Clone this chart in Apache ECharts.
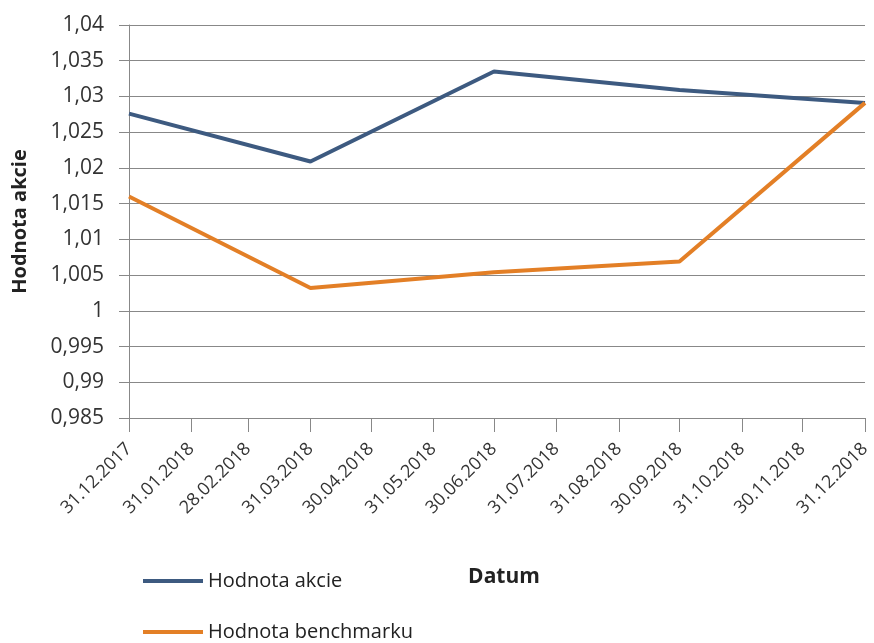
<!DOCTYPE html>
<html>
<head>
<meta charset="utf-8">
<script src="https://cdn.jsdelivr.net/npm/echarts@6/dist/echarts.min.js"></script>
<style>
  html, body { margin: 0; padding: 0; background: #fff; }
  #chart { width: 874px; height: 643px; }
</style>
</head>
<body>
<div id="chart"></div>
<script>
// month-end ticks of the date axis
const tickDates = ['2017-12-31', '2018-01-31', '2018-02-28', '2018-03-31', '2018-04-30', '2018-05-31',
  '2018-06-30', '2018-07-31', '2018-08-31', '2018-09-30', '2018-10-31', '2018-11-30', '2018-12-31'];
// quarterly observations
const pointDates = ['2017-12-31', '2018-03-31', '2018-06-30', '2018-09-30', '2018-12-31'];
const akcie = [1.0276, 1.0209, 1.0335, 1.0309, 1.0291];
const benchmark = [1.0160, 1.0032, 1.0054, 1.0069, 1.0291];

// x axis counted in days from the first date
const DAY = 86400000;
const ts = d => Date.UTC(+d.slice(0, 4), +d.slice(5, 7) - 1, +d.slice(8, 10));
const base = ts(tickDates[0]);
const dayOf = d => Math.round((ts(d) - base) / DAY);
const tickDays = tickDates.map(dayOf);
const labelOfDay = {};
tickDates.forEach((d, i) => {
  labelOfDay[tickDays[i]] = d.slice(8, 10) + '.' + d.slice(5, 7) + '.' + d.slice(0, 4);
});

const font = '"Open Sans", "Noto Sans", sans-serif';
const myChart = echarts.init(document.getElementById('chart'));
const options = {
  animation: false,
  backgroundColor: '#fff',
  textStyle: { fontFamily: font },
  grid: { left: 129, right: 9, top: 25, bottom: 225, outerBoundsMode: 'none' },
  legend: {
    orient: 'vertical',
    left: 138,
    top: 566,
    height: 90,
    icon: 'rect',
    itemWidth: 60,
    itemHeight: 4,
    itemGap: 31,
    textStyle: { fontFamily: font, fontSize: 20, color: '#222' },
    data: ['Hodnota akcie', 'Hodnota benchmarku']
  },
  xAxis: {
    type: 'value',
    min: tickDays[0],
    max: tickDays[tickDays.length - 1],
    name: 'Datum',
    nameLocation: 'middle',
    nameGap: 149,
    nameTextStyle: { fontFamily: font, fontSize: 21, fontWeight: 'bold', color: '#222', padding: [0, 0, 0, 14] },
    axisLine: { show: true, lineStyle: { color: '#888', width: 1 } },
    axisTick: { show: true, customValues: tickDays, length: 14, lineStyle: { color: '#888' } },
    axisLabel: {
      customValues: tickDays,
      rotate: 45,
      formatter: v => labelOfDay[Math.round(v)] || '',
      fontFamily: font,
      fontSize: 18,
      color: '#333',
      margin: 28
    },
    splitLine: { show: false }
  },
  yAxis: {
    type: 'value',
    min: 0.985,
    max: 1.04,
    interval: 0.005,
    name: 'Hodnota akcie',
    nameLocation: 'middle',
    nameGap: 99,
    nameTextStyle: { fontFamily: font, fontSize: 20, fontWeight: 'bold', color: '#222' },
    axisLine: { show: true, lineStyle: { color: '#888' } },
    axisTick: { show: true, length: 10, lineStyle: { color: '#888' } },
    axisLabel: {
      formatter: v => String(+v.toFixed(3)).replace('.', ','),
      fontFamily: font,
      fontSize: 21,
      color: '#333',
      margin: 25
    },
    splitLine: { lineStyle: { color: '#888', width: 1 } }
  },
  series: [
    {
      name: 'Hodnota akcie',
      type: 'line',
      data: pointDates.map((d, i) => [dayOf(d), akcie[i]]),
      symbol: 'none',
      lineStyle: { color: '#3d5a80', width: 4 },
      itemStyle: { color: '#3d5a80' }
    },
    {
      name: 'Hodnota benchmarku',
      type: 'line',
      data: pointDates.map((d, i) => [dayOf(d), benchmark[i]]),
      symbol: 'none',
      lineStyle: { color: '#e37f26', width: 4 },
      itemStyle: { color: '#e37f26' }
    }
  ]
};
myChart.setOption(options);
window.onresize = function () {
  myChart.resize();
};
</script>
</body>
</html>
